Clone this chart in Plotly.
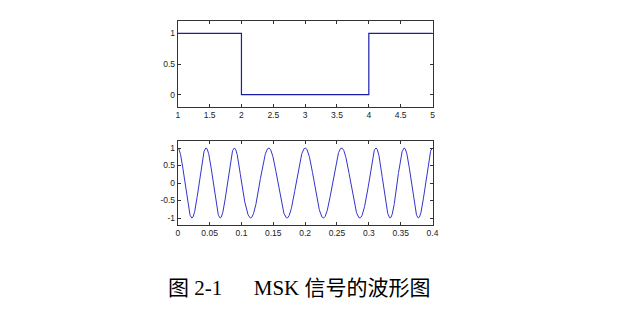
import numpy as np
import plotly.graph_objects as go

# Data
bits = [1, 0, 0, 1]
bit_positions = [1, 2, 3, 4, 5]           # stairs x (last level held to 5)
bit_levels = bits + [bits[-1]]
Tb = 0.1                                   # bit duration (s)
f_high = 22.5                              # frequency for bit 1 (Hz)
f_low = 17.5                               # frequency for bit 0 (Hz)
top_xticks = [1, 1.5, 2, 2.5, 3, 3.5, 4, 4.5, 5]
top_yticks = [0, 0.5, 1]
bot_xticks = [0, 0.05, 0.1, 0.15, 0.2, 0.25, 0.3, 0.35, 0.4]
bot_yticks = [-1, -0.5, 0, 0.5, 1]

# continuous-phase FSK (MSK) waveform built from the bits
t = np.linspace(0, Tb * len(bits), 2001)
freq = np.array([f_high if bits[min(int(tt / Tb), len(bits) - 1)] else f_low for tt in t])
phase = np.concatenate([[0], np.cumsum(2 * np.pi * freq[1:] * np.diff(t))])
wave = np.cos(phase)

W, H = 636, 311
def px(x): return x / W
def py(y): return 1 - y / H

fig = go.Figure()
fig.add_trace(go.Scatter(x=bit_positions, y=bit_levels, mode="lines",
                         line=dict(color="#1c1ca8", width=1.2, shape="hv"),
                         xaxis="x", yaxis="y", showlegend=False))
fig.add_trace(go.Scatter(x=t, y=wave, mode="lines",
                         line=dict(color="#3333cc", width=1),
                         xaxis="x2", yaxis="y2", showlegend=False))

axfont = dict(family="Liberation Sans, Arial, sans-serif", size=8.5, color="#222")
common = dict(showgrid=False, zeroline=False, showline=True, linecolor="#333",
              linewidth=1, mirror="ticks", ticks="inside", ticklen=3,
              tickcolor="#333", tickfont=axfont)

fig.update_layout(
    width=W, height=H, margin=dict(l=0, r=0, t=0, b=0),
    paper_bgcolor="white", plot_bgcolor="white",
    xaxis=dict(domain=[px(178), px(436)], range=[1, 5], tickvals=top_xticks,
               ticktext=[f"{v:g}" for v in top_xticks], anchor="y", **common),
    yaxis=dict(domain=[py(107), py(21)], range=[-0.2, 1.2], tickvals=top_yticks,
               ticktext=[f"{v:g}" for v in top_yticks], anchor="x", **common),
    xaxis2=dict(domain=[px(178), px(436)], range=[0, 0.4], tickvals=bot_xticks,
                ticktext=[f"{v:g}" for v in bot_xticks], anchor="y2", **common),
    yaxis2=dict(domain=[py(225), py(141)], range=[-1.2, 1.2], tickvals=bot_yticks,
                ticktext=[f"{v:g}" for v in bot_yticks], anchor="x2", **common),
    annotations=[dict(
        text="图 2-1\u00a0\u00a0\u00a0\u00a0\u00a0\u00a0MSK 信号的波形图",
        x=px(301), y=py(288), xref="paper", yref="paper",
        xanchor="center", yanchor="middle", showarrow=False,
        font=dict(family="Liberation Serif, Noto Sans CJK SC", size=21, color="#000"))],
)

fig.write_html("out.html")
